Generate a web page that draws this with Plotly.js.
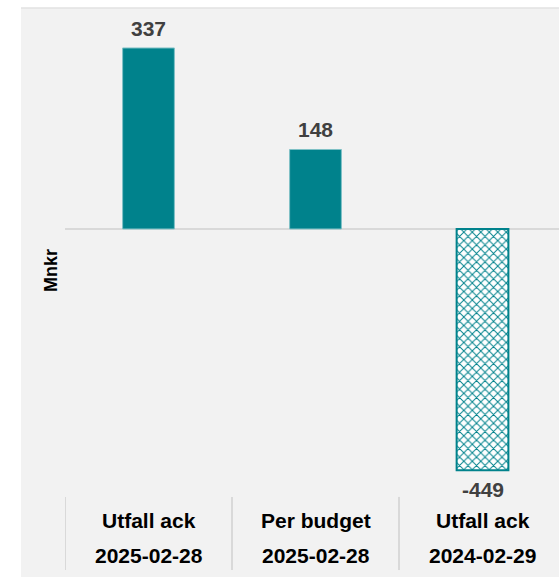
<!DOCTYPE html>
<html>
<head>
<meta charset="utf-8">
<script src="https://cdn.plot.ly/plotly-3.0.1.min.js"></script>
<style>
  html, body { margin: 0; padding: 0; background: #ffffff; }
  #chart { width: 559px; height: 577px; }
</style>
</head>
<body>
<div id="chart"></div>
<script>
// ---- data ----
const categories = ["Utfall ack", "Per budget", "Utfall ack"];
const dates = ["2025-02-28", "2025-02-28", "2024-02-29"];
const values = [337, 148, -449];
const yTitle = "Mnkr";

// ---- styling ----
const teal = "#00828C";
const xIdx = categories.map((_, i) => i);

const trace = {
  type: "bar",
  x: xIdx,
  y: values,
  width: 0.31,
  marker: {
    color: teal,
    line: { color: ["#7fc1c6", "#7fc1c6", teal], width: [1, 1, 2] },
    pattern: {
      shape: ["", "", "x"],
      fillmode: "replace",
      bgcolor: "#ffffff",
      size: 6,
      solidity: 0.3
    }
  },
  hoverinfo: "skip"
};

const font = "Liberation Sans, Arial, sans-serif";
const annotations = [];
values.forEach((v, i) => {
  annotations.push({
    x: i, y: v, xref: "x", yref: "y",
    text: "<b>" + v + "</b>",
    showarrow: false,
    yanchor: v >= 0 ? "bottom" : "top",
    yshift: v >= 0 ? 6 : -6,
    font: { family: font, size: 21, color: "#404040" }
  });
});
categories.forEach((c, i) => {
  annotations.push({
    x: i, xref: "x", yref: "paper", y: -0.0547, yanchor: "middle",
    text: "<b>" + c + "</b>", showarrow: false,
    font: { family: font, size: 21, color: "#000000" }
  });
  annotations.push({
    x: i, xref: "x", yref: "paper", y: -0.128, yanchor: "middle",
    text: "<b>" + dates[i] + "</b>", showarrow: false,
    font: { family: font, size: 21, color: "#000000" }
  });
});
annotations.push({
  xref: "paper", yref: "paper", x: -0.0283, y: 0.4716,
  xanchor: "center", yanchor: "middle",
  text: "<b>" + yTitle + "</b>", textangle: -90, showarrow: false,
  font: { family: font, size: 18, color: "#000000" }
});

const shapes = [
  { type: "rect", xref: "paper", yref: "paper", x0: -0.0891, x1: 1.2, y0: -0.4, y1: 1.0253,
    fillcolor: "#f2f2f2", line: { width: 0 }, layer: "below" },
  { type: "line", xref: "paper", yref: "paper", x0: -0.0891, x1: 1.2, y0: 1.0253, y1: 1.0253,
    line: { color: "#e2e2e2", width: 1.5 }, layer: "below" }
];
[-0.5, 0.5, 1.5].forEach(xv => {
  shapes.push({ type: "line", xref: "x", yref: "paper", x0: xv, x1: xv, y0: -0.004, y1: -0.158,
    line: { color: "#d9d9d9", width: 2 } });
});

const layout = {
  width: 559, height: 577,
  margin: { l: 65, r: 0, t: 20, b: 82 },
  paper_bgcolor: "#ffffff",
  plot_bgcolor: "rgba(0,0,0,0)",
  showlegend: false,
  bargap: 0,
  xaxis: { range: [-0.5, 2.458], showticklabels: false, showgrid: false, zeroline: false,
    showline: false, ticks: "", fixedrange: true },
  yaxis: { range: [-495.3, 389.1], showticklabels: false, showgrid: false,
    zeroline: true, zerolinecolor: "#d9d9d9", zerolinewidth: 2, showline: false, ticks: "",
    fixedrange: true },
  annotations: annotations,
  shapes: shapes,
  font: { family: font }
};

Plotly.newPlot("chart", [trace], layout, { displayModeBar: false, staticPlot: true });
</script>
</body>
</html>
